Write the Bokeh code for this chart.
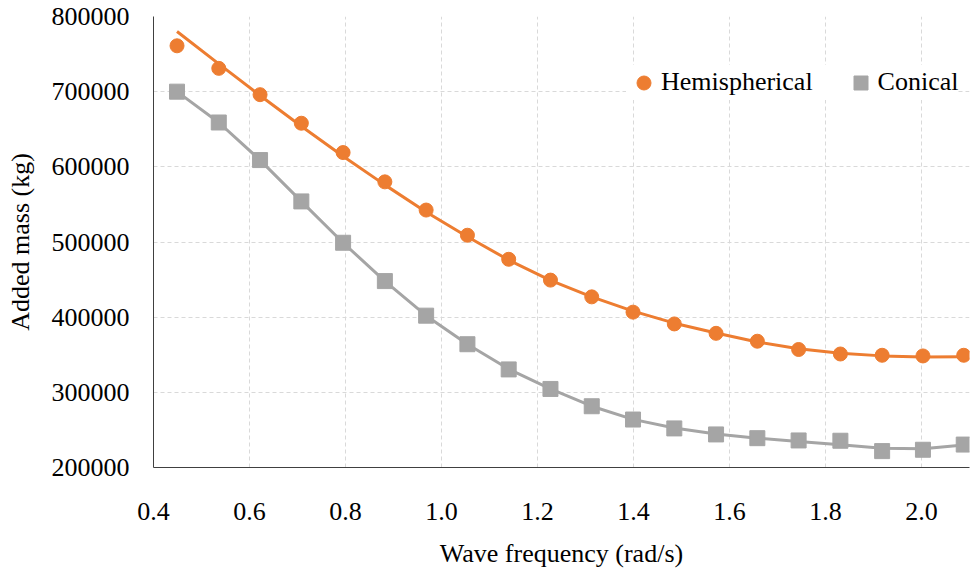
from bokeh.plotting import figure
from bokeh.models import FixedTicker, PrintfTickFormatter, Legend, LegendItem, Range1d
from bokeh.embed import file_html
from bokeh.resources import INLINE

# ---- data ----
freq = [0.449, 0.536, 0.622, 0.708, 0.795, 0.882, 0.968, 1.054, 1.140, 1.227,
        1.313, 1.399, 1.485, 1.572, 1.658, 1.744, 1.831, 1.918, 2.003, 2.088]
hemi = [761000, 731000, 696000, 658000, 619000, 580000, 542500, 509000, 477000, 449300,
        427000, 406700, 391000, 378500, 368000, 357000, 351000, 349300, 348400, 349300]
hemi_fit = [780000, 737000, 695000, 654000, 614000, 576000, 540000, 507000, 476000, 449000,
            427000, 408000, 392000, 379000, 367000, 358000, 352000, 348500, 347000, 347500]
conical = [700000, 659000, 609000, 554000, 499000, 448000, 402000, 364000, 330500, 304500,
           281500, 263800, 252000, 244000, 239000, 236000, 235600, 221800, 223600, 230500]
conical_fit = [700000, 659000, 609000, 554000, 499000, 448000, 402000, 364000, 331000, 304500,
               281500, 264000, 252500, 244500, 239000, 234700, 230200, 225500, 225000, 230000]
x_ticks = [0.4, 0.6, 0.8, 1.0, 1.2, 1.4, 1.6, 1.8, 2.0]
y_ticks = [200000, 300000, 400000, 500000, 600000, 700000, 800000]

ORANGE = "#ED7D31"
GRAY = "#A5A5A5"
FONT = "Liberation Serif"
FS = "26px"

p = figure(width=972, height=578, output_backend="svg", toolbar_location=None,
           x_range=Range1d(0.4, 2.1), y_range=Range1d(200000, 800000),
           min_border_left=153, min_border_right=3, min_border_top=16, min_border_bottom=111)
p.outline_line_color = None
p.background_fill_color = "white"
p.border_fill_color = "white"

# grid
for g in (p.xgrid[0], p.ygrid[0]):
    g.grid_line_color = "#D9D9D9"
    g.grid_line_dash = "4 3"
    g.grid_line_width = 1
p.xgrid[0].ticker = FixedTicker(ticks=x_ticks)
p.ygrid[0].ticker = FixedTicker(ticks=y_ticks)

# axes
xa = p.xaxis[0]
ya = p.yaxis[0]
xa.ticker = FixedTicker(ticks=x_ticks)
ya.ticker = FixedTicker(ticks=y_ticks)
xa.formatter = PrintfTickFormatter(format="%.1f")
ya.formatter = PrintfTickFormatter(format="%d")
xa.axis_label = "Wave frequency (rad/s)"
ya.axis_label = "Added mass (kg)"
for a in (xa, ya):
    a.major_tick_in = 0
    a.major_tick_out = 0
    a.minor_tick_in = 0
    a.minor_tick_out = 0
    a.axis_line_color = "#404040"
    a.axis_line_width = 1
    a.major_label_text_font = FONT
    a.major_label_text_font_size = FS
    a.major_label_text_color = "black"
    a.axis_label_text_font = FONT
    a.axis_label_text_font_size = FS
    a.axis_label_text_font_style = "normal"
    a.axis_label_text_color = "black"
xa.major_label_standoff = 35
ya.major_label_standoff = 24
xa.axis_label_standoff = 16
ya.axis_label_standoff = 14

# series
p.line(freq, hemi_fit, line_color=ORANGE, line_width=3)
p.line(freq, conical_fit, line_color=GRAY, line_width=3)
r_h = p.scatter(freq, hemi, marker="circle", size=14, fill_color=ORANGE, line_color=ORANGE)
r_c = p.scatter(freq, conical, marker="square", size=15, fill_color=GRAY, line_color=GRAY)

pad = 15
legend = Legend(items=[LegendItem(label="Hemispherical", renderers=[r_h]),
                       LegendItem(label="Conical", renderers=[r_c])],
                orientation="horizontal", location=(488 - pad, 382.5 - pad),
                glyph_width=35, glyph_height=35, label_standoff=-3, spacing=30,
                padding=pad, margin=0, border_line_color=None,
                background_fill_color="white", background_fill_alpha=1.0,
                label_text_font=FONT, label_text_font_size=FS, label_text_color="black")
p.add_layout(legend, "center")

open("out.html", "w").write(file_html(p, INLINE))
